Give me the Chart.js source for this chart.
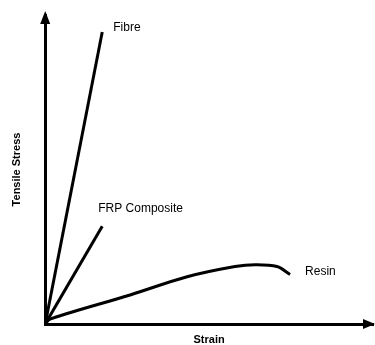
<!DOCTYPE html>
<html>
<head>
<meta charset="utf-8">
<script src="https://cdn.jsdelivr.net/npm/chart.js@4/dist/chart.umd.min.js"></script>
<style>
  html, body { margin: 0; padding: 0; background: #fff; }
  #wrap { width: 375px; height: 345px; }
</style>
</head>
<body>
<div id="wrap"><canvas id="myChart"></canvas></div>
<script>
// strain / stress in arbitrary units (0-100)
const fibreStrain = [0, 17.4];
const fibreStress = [0, 94.5];

const frpStrain = [0, 17.4];
const frpStress = [0, 31.6];

const resinStrain = [0, 1.5, 25.9, 43.3, 57.9, 64.0, 70.7, 74.7];
const resinStress = [0, 1.6, 9.4, 15.3, 18.6, 19.2, 18.6, 16.0];

const seriesNames = ['Fibre', 'FRP Composite', 'Resin'];
const xTitle = 'Strain';
const yTitle = 'Tensile Stress';

const toPoints = (xs, ys) => xs.map((x, i) => ({ x: x, y: ys[i] }));

// labels next to line ends, plus arrowheads on the axes
const extras = {
    id: 'extras',
    afterDraw(chart) {
        const ctx = chart.ctx;
        const area = chart.chartArea;
        const xs = chart.scales.x;
        const ys = chart.scales.y;

        ctx.save();
        ctx.fillStyle = '#000';

        // y arrow
        const ax = xs.getPixelForValue(0);
        ctx.beginPath();
        ctx.moveTo(ax, area.top - 4);
        ctx.lineTo(ax - 5, area.top + 9);
        ctx.lineTo(ax + 5, area.top + 9);
        ctx.closePath();
        ctx.fill();

        // x arrow
        const ay = ys.getPixelForValue(0);
        ctx.beginPath();
        ctx.moveTo(area.right + 2, ay);
        ctx.lineTo(area.right - 10, ay - 5);
        ctx.lineTo(area.right - 10, ay + 5);
        ctx.closePath();
        ctx.fill();

        ctx.font = '12px "Liberation Sans", Arial, sans-serif';
        ctx.textBaseline = 'middle';
        ctx.textAlign = 'left';
        const ends = [
            [fibreStrain[1], fibreStress[1], 11, -4],
            [frpStrain[1], frpStress[1], -4, -18],
            [resinStrain[resinStrain.length - 1], resinStress[resinStress.length - 1], 15, -3]
        ];
        ends.forEach((e, i) => {
            const px = xs.getPixelForValue(e[0]) + e[2];
            const py = ys.getPixelForValue(e[1]) + e[3];
            ctx.fillText(seriesNames[i], px, py);
        });
        ctx.restore();
    }
};

const lineStyle = {
    borderColor: '#000',
    borderWidth: 3,
    pointRadius: 0,
    fill: false
};

new Chart(document.getElementById('myChart'), {
    type: 'scatter',
    data: {
        datasets: [
            Object.assign({ label: seriesNames[0], data: toPoints(fibreStrain, fibreStress), showLine: true }, lineStyle),
            Object.assign({ label: seriesNames[1], data: toPoints(frpStrain, frpStress), showLine: true }, lineStyle),
            Object.assign({ label: seriesNames[2], data: toPoints(resinStrain, resinStress), showLine: true, tension: 0.35 }, lineStyle)
        ]
    },
    options: {
        responsive: true,
        maintainAspectRatio: false,
        animation: false,
        layout: {
            padding: { left: 10, right: 2, top: 15, bottom: 0 }
        },
        plugins: {
            legend: { display: false },
            tooltip: { enabled: false }
        },
        scales: {
            x: {
                type: 'linear',
                min: 0,
                max: 100,
                grid: { display: false },
                border: { display: true, color: '#000', width: 3 },
                ticks: { display: false },
                title: {
                    display: true,
                    text: xTitle,
                    color: '#000',
                    font: { family: 'Liberation Sans', size: 11, weight: 'bold', lineHeight: 1 },
                    padding: { top: 2, bottom: 0 }
                }
            },
            y: {
                type: 'linear',
                min: 0,
                max: 100,
                grid: { display: false },
                border: { display: true, color: '#000', width: 3 },
                ticks: { display: false },
                title: {
                    display: true,
                    text: yTitle,
                    color: '#000',
                    font: { family: 'Liberation Sans', size: 11, weight: 'bold' },
                    padding: { top: 0, bottom: 14 }
                }
            }
        }
    },
    plugins: [extras]
});
</script>
</body>
</html>
